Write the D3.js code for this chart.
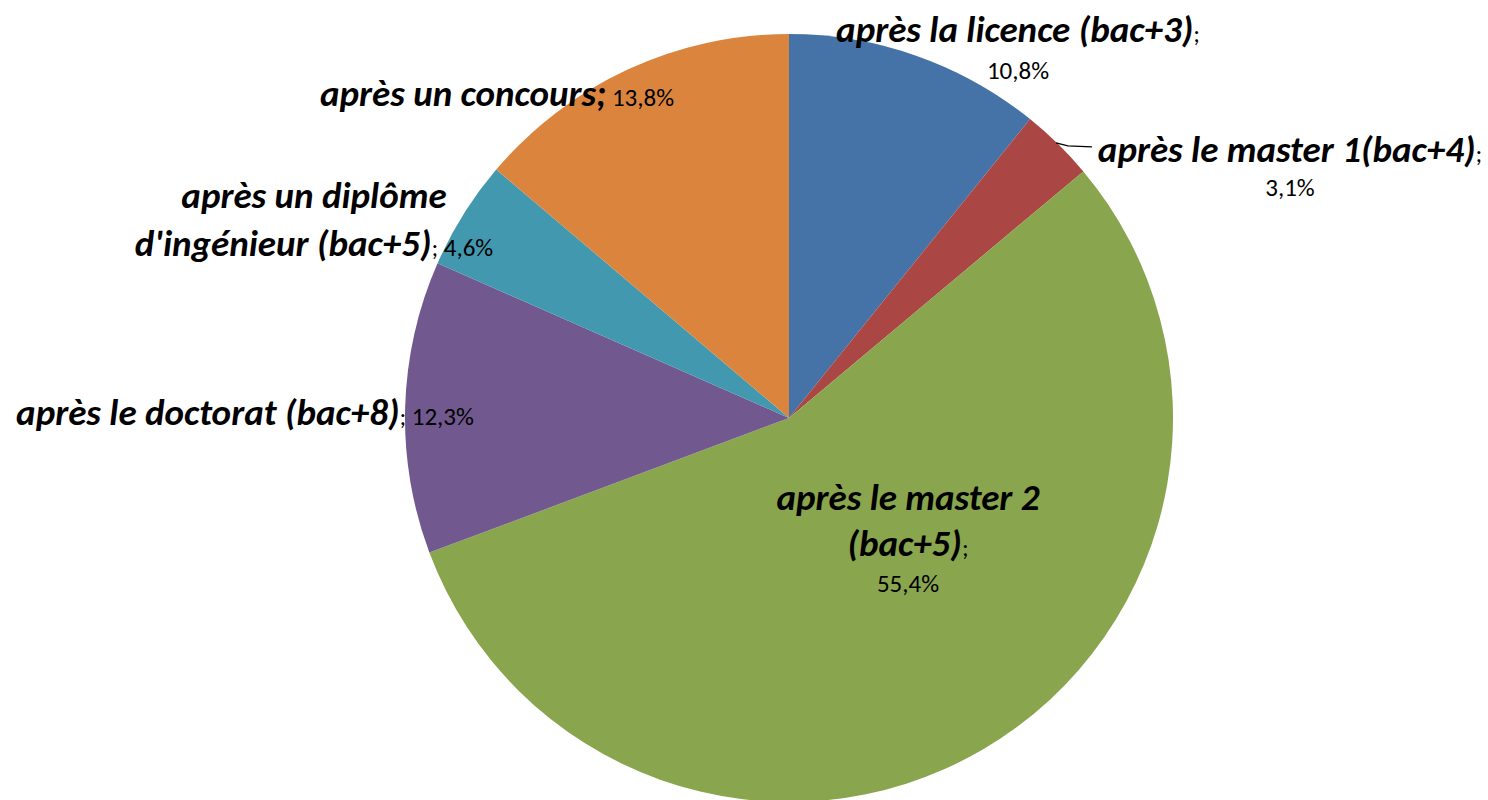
<!DOCTYPE html>
<html>
<head>
<meta charset="utf-8">
<script src="https://cdn.jsdelivr.net/npm/d3@7"></script>
<style>
  body { margin: 0; background: #fff; }
  svg { display: block; }
  text { font-family: Carlito, Calibri, Lato, sans-serif; fill: #000; }
  .lbl { font-weight: bold; font-style: italic; font-size: 37px; }
  .pct { font-weight: normal; font-style: normal; font-size: 25px; }
</style>
</head>
<body>
<svg id="chart"></svg>
<script>
// data, clockwise from 12 o'clock
const categories = [
  'après la licence (bac+3)',
  'après le master 1(bac+4)',
  'après le master 2 (bac+5)',
  'après le doctorat (bac+8)',
  "après un diplôme d'ingénieur (bac+5)",
  'après un concours'
];
const values = [10.8, 3.1, 55.4, 12.3, 4.6, 13.8];
const valueLabels = ['10,8%', '3,1%', '55,4%', '12,3%', '4,6%', '13,8%'];
const colors = ['#4572A7', '#AA4643', '#89A54E', '#71588F', '#4198AF', '#DB843D'];

// label lines: each line is a list of [text, bold?] pieces
const labelLines = [
  [[['après la licence (bac+3)', 1], [';', 0]], [['10,8%', 0]]],
  [[['après le master 1(bac+4)', 1], [';', 0]], [['3,1%', 0]]],
  [[['après le master 2', 1]], [['(bac+5)', 1], [';', 0]], [['55,4%', 0]]],
  [[['après le doctorat (bac+8)', 1], ['; 12,3%', 0]]],
  [[['après un diplôme', 1]], [["d'ingénieur (bac+5)", 1], ['; 4,6%', 0]]],
  [[['après un concours;', 1], [' 13,8%', 0]]]
];

const W = 1488, H = 800;
const cx = 789, cy = 418, radius = 384;

// label anchor (centre x, baseline of each line)
const labelPos = [
  { x: 1018, ys: [42, 79] },
  { x: 1290, ys: [162, 196] },
  { x: 908, ys: [510, 556, 592] },
  { x: 245, ys: [425] },
  { x: 314, ys: [208, 256] },
  { x: 497, ys: [106] }
];

const svg = d3.select('#chart').attr('width', W).attr('height', H);

const pie = d3.pie().sort(null).value(d => d);
const arcs = pie(values);
const arc = d3.arc().innerRadius(0).outerRadius(radius);

const g = svg.append('g').attr('transform', `translate(${cx},${cy})`);
g.selectAll('path')
  .data(arcs)
  .enter().append('path')
  .attr('d', arc)
  .attr('fill', (d, i) => colors[i]);

// leader line for the small master 1 slice
const a1 = (arcs[1].startAngle + arcs[1].endAngle) / 2;
const p0 = [cx + Math.sin(a1) * radius, cy - Math.cos(a1) * radius];
svg.append('path')
  .attr('d', `M${p0[0] - 2},${p0[1] - 1} L${p0[0] + 10},${p0[1] + 2} L${p0[0] + 34},${p0[1] + 3}`)
  .attr('fill', 'none')
  .attr('stroke', '#000')
  .attr('stroke-width', 1.3);

labelLines.forEach((lines, i) => {
  lines.forEach((pieces, j) => {
    const t = svg.append('text')
      .attr('x', labelPos[i].x)
      .attr('y', labelPos[i].ys[j])
      .attr('text-anchor', 'middle')
      .style('white-space', 'pre');
    pieces.forEach(p => {
      t.append('tspan')
        .attr('class', p[1] ? 'lbl' : 'pct')
        .text(p[0]);
    });
  });
});
</script>
</body>
</html>
